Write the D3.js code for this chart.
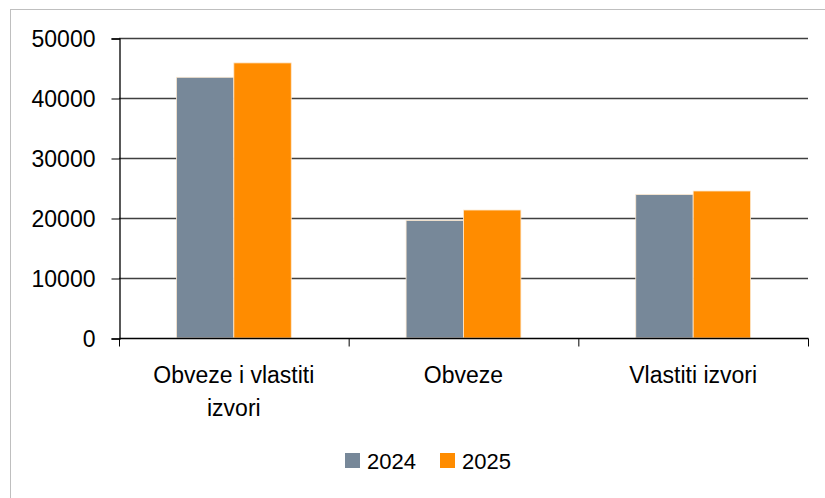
<!DOCTYPE html>
<html>
<head>
<meta charset="utf-8">
<script src="https://cdn.jsdelivr.net/npm/d3@7"></script>
<style>
  body { margin: 0; background: #fff; }
  svg text { font-family: "Liberation Sans", Arial, sans-serif; fill: #000; }
</style>
</head>
<body>
<svg></svg>
<script>
// podaci
const categories = ["Obveze i vlastiti izvori", "Obveze", "Vlastiti izvori"];
const years = ["2024", "2025"];
const values2024 = [43450, 19600, 23900];
const values2025 = [45850, 21330, 24500];
const yTicks = [0, 10000, 20000, 30000, 40000, 50000];
const colors = ["#778899", "#ff8c00"];

const width = 825;
const height = 498;
let svg = d3.select("svg")
  .attr("width", width)
  .attr("height", height);

// okvir
svg.append("rect")
  .attr("x", 10.5).attr("y", 9.5)
  .attr("width", 830).attr("height", 500)
  .style("fill", "none")
  .style("stroke", "#bfbfbf");

const plotLeft = 119, plotRight = 808, plotTop = 38, plotBottom = 338;

const x = d3.scaleBand().domain(categories).range([plotLeft, plotRight]);
const xInner = d3.scaleBand().domain(years).range([0, x.bandwidth()]).paddingInner(0).paddingOuter(1);
const y = d3.scaleLinear().domain([0, 50000]).range([plotBottom, plotTop]);

// mreža
svg.append("g")
  .selectAll("line")
  .data(yTicks.slice(1))
  .join("line")
  .attr("x1", plotLeft).attr("x2", plotRight)
  .attr("y1", d => y(d) + 0.5).attr("y2", d => y(d) + 0.5)
  .style("stroke", "#404040")
  .style("stroke-width", 1.3);

// stupci
const data = categories.map((c, i) => ({ cat: c, vals: [values2024[i], values2025[i]] }));
const groups = svg.append("g")
  .selectAll("g")
  .data(data)
  .join("g")
  .attr("transform", d => `translate(${x(d.cat)},0)`);

groups.selectAll("rect")
  .data(d => d.vals.map((v, j) => ({ year: years[j], v: v, j: j })))
  .join("rect")
  .attr("x", d => xInner(d.year))
  .attr("y", d => y(d.v))
  .attr("width", xInner.bandwidth())
  .attr("height", d => plotBottom - y(d.v))
  .style("fill", d => colors[d.j])
  .style("stroke", "#fde9d0")
  .style("stroke-width", 0.8);

// y os
const yAxis = svg.append("g")
  .attr("transform", `translate(${plotLeft + 0.5},0.5)`)
  .call(d3.axisLeft(y).tickValues(yTicks).tickSize(8).tickPadding(16).tickFormat(d3.format("d")));
yAxis.select(".domain").style("stroke", "#000").style("stroke-width", 1.3);
yAxis.selectAll(".tick line").style("stroke", "#000");
yAxis.selectAll("text").style("font-size", "23px").attr("dy", "0.35em");

// x os
const xAxis = svg.append("g")
  .attr("transform", `translate(0.5,${plotBottom + 0.5})`);
xAxis.append("line")
  .attr("x1", plotLeft).attr("x2", plotRight)
  .style("stroke", "#000").style("stroke-width", 1.3);
const xTickPos = categories.map(c => x(c)).concat([plotRight]);
xAxis.selectAll(".xt")
  .data(xTickPos)
  .join("line")
  .attr("class", "xt")
  .attr("x1", d => d).attr("x2", d => d)
  .attr("y1", 0).attr("y2", 8)
  .style("stroke", "#000");

// oznake kategorija
const labelLines = [["Obveze i vlastiti", "izvori"], ["Obveze"], ["Vlastiti izvori"]];
categories.forEach((c, i) => {
  const t = svg.append("text")
    .attr("text-anchor", "middle")
    .style("font-size", "23px");
  labelLines[i].forEach((line, k) => {
    t.append("tspan")
      .attr("x", x(c) + x.bandwidth() / 2)
      .attr("y", 383 + k * 33)
      .text(line);
  });
});

// legenda
const legendX = [345, 440];
const legend = svg.append("g");
years.forEach((yr, i) => {
  legend.append("rect")
    .attr("x", legendX[i]).attr("y", 453)
    .attr("width", 15).attr("height", 15)
    .style("fill", colors[i]);
  legend.append("text")
    .attr("x", legendX[i] + 22).attr("y", 469)
    .style("font-size", "22px")
    .text(yr);
});
</script>
</body>
</html>
